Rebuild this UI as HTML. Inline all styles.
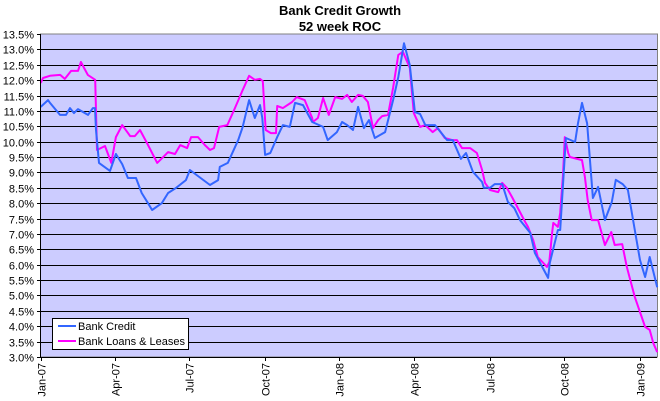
<!DOCTYPE html>
<html><head><meta charset="utf-8">
<style>
html,body{margin:0;padding:0;background:#fff;}
svg{display:block;font-family:"Liberation Sans",Arial,sans-serif;}
</style></head>
<body>
<svg id="chart" width="660" height="401" viewBox="0 0 660 401">
  <text x="340" y="15" text-anchor="middle" font-size="13" font-weight="bold">Bank Credit Growth</text>
  <text x="340" y="31" text-anchor="middle" font-size="13" font-weight="bold">52 week ROC</text>
  <rect x="40.5" y="34" width="617" height="323" fill="#ccccff" stroke="#808080" stroke-width="1"/>
  <g id="grid"></g>
  <g id="series"></g>
  <line x1="40.5" y1="34" x2="40.5" y2="357" stroke="#000"/>
  <line x1="40.5" y1="357.5" x2="657" y2="357.5" stroke="#000"/>
  <g id="yticks"></g>
  <g id="xticks"></g>
  <g>
    <rect x="52.5" y="318.5" width="136" height="31" fill="#fff" stroke="#000"/>
    <line x1="58" y1="326" x2="76" y2="326" stroke="#3366ff" stroke-width="2"/>
    <text x="78" y="330" font-size="11">Bank Credit</text>
    <line x1="58" y1="341" x2="76" y2="341" stroke="#ff00ff" stroke-width="2"/>
    <text x="78" y="345" font-size="11">Bank Loans &amp; Leases</text>
  </g>
</svg>
<script>
const yTickValues = [3.0,3.5,4.0,4.5,5.0,5.5,6.0,6.5,7.0,7.5,8.0,8.5,9.0,9.5,10.0,10.5,11.0,11.5,12.0,12.5,13.0,13.5];
const xTickLabels = ["Jan-07","Apr-07","Jul-07","Oct-07","Jan-08","Apr-08","Jul-08","Oct-08","Jan-09"];
const xTickWeeks = [0,12.9,25.9,39.0,52.0,65.1,78.2,91.2,104.4];
const creditWeeks = [0,1.27,1.62,3.36,4.41,5.1,5.8,6.5,8.24,9.1,9.46,9.63,10.16,12.07,13.1,14.2,15.2,16.6,17.6,18.7,19.4,21.1,22.2,23.6,25.3,26.0,29.5,30.9,31.2,32.6,34.4,35.2,36.3,37.3,38.2,38.6,39.1,40.0,41.2,42.2,43.4,44.3,45.7,47.3,49.2,50.0,51.6,52.5,53.4,54.4,55.3,56.3,57.2,58.2,60.0,61.4,62.3,63.3,64.3,65.2,66.1,67.0,68.7,70.8,71.8,73.2,74.1,75.3,76.9,77.2,78.3,79.1,80.4,81.4,82.5,83.5,85.3,86.1,87.0,88.4,88.7,90.1,90.5,91.5,93.1,93.6,94.3,95.2,96.2,97.1,98.3,99.5,100.2,101.4,102.3,103.5,104.4,105.3,106.1,107.4];
const creditValues = [11.13,11.35,11.26,10.87,10.87,11.09,10.93,11.06,10.87,11.09,11.09,10.38,9.31,9.05,9.6,9.27,8.82,8.82,8.33,8.0,7.78,8.0,8.33,8.5,8.75,9.08,8.59,8.75,9.18,9.31,10.05,10.48,11.35,10.77,11.19,10.77,9.57,9.63,10.15,10.54,10.48,11.26,11.19,10.64,10.48,10.05,10.31,10.64,10.54,10.38,11.13,10.44,10.7,10.12,10.31,11.35,12.1,13.2,12.49,10.96,10.9,10.54,10.54,10.05,10.05,9.44,9.63,9.02,8.69,8.5,8.5,8.62,8.62,8.04,7.84,7.45,7.03,6.38,6.06,5.57,6.06,7.13,7.13,10.12,9.99,10.6,11.26,10.6,8.17,8.53,7.45,8.04,8.76,8.62,8.43,7.13,6.15,5.6,6.25,5.27];
const loansWeeks = [0,0.4,1.6,3.4,4.2,5.3,6.5,7.0,8.2,9.5,9.8,11.2,12.3,13.1,14.2,15.6,16.4,17.3,18.5,20.3,21.7,22.2,23.4,24.3,25.5,26.2,27.4,28.6,29.5,30.2,31.1,32.5,33.7,35.2,36.3,37.3,38.2,38.7,39.2,40.1,41.0,41.2,42.2,43.8,44.6,46.0,47.3,47.4,48.3,49.2,50.2,51.3,52.5,53.4,54.2,55.3,56.1,57.0,57.9,58.8,59.5,60.5,61.4,62.3,63.1,64.3,65.0,66.1,67.0,68.3,69.2,70.4,71.7,72.5,73.4,74.8,76.0,76.9,77.4,78.3,79.7,80.4,81.2,82.1,83.5,84.4,84.9,85.8,86.6,88.2,88.6,89.1,89.3,90.1,90.5,91.0,91.3,91.9,92.2,94.3,94.8,95.3,96.0,97.1,98.3,99.4,100.0,101.3,102.1,103.5,104.7,105.3,106.1,106.7,107.4];
const loansValues = [11.91,12.07,12.14,12.17,12.04,12.3,12.3,12.59,12.17,12.01,9.73,9.86,9.31,10.15,10.54,10.18,10.18,10.38,9.96,9.31,9.57,9.66,9.6,9.89,9.79,10.15,10.15,9.89,9.73,9.79,10.48,10.54,11.03,11.68,12.14,12.01,12.04,11.97,10.38,10.28,10.28,11.16,11.09,11.29,11.45,11.35,10.77,10.64,10.77,11.42,10.87,11.45,11.39,11.52,11.29,11.52,11.49,11.29,10.44,10.7,10.83,10.87,11.75,12.82,12.92,12.4,10.93,10.48,10.54,10.31,10.44,10.12,10.05,10.05,9.79,9.79,9.63,9.08,8.66,8.43,8.36,8.66,8.5,8.2,7.71,7.39,7.23,6.8,6.25,5.93,6.09,7.03,7.36,7.23,7.68,8.92,10.15,9.63,9.5,9.4,8.85,8.1,7.45,7.45,6.64,7.06,6.64,6.67,5.93,4.95,4.3,3.98,3.88,3.46,3.16];

const NS = "http://www.w3.org/2000/svg";
const X0 = 40.7, XW = 5.74, YTOP = 34, YBOT = 357, VMIN = 3.0, VMAX = 13.5;
function xScale(w){ return X0 + w * XW; }
function yScale(v){ return YBOT - (v - VMIN) / (VMAX - VMIN) * (YBOT - YTOP); }
function mk(tag, attrs, parent){ const e = document.createElementNS(NS, tag); for (const k in attrs) e.setAttribute(k, attrs[k]); parent.appendChild(e); return e; }

const grid = document.getElementById('grid');
const yt = document.getElementById('yticks');
yTickValues.forEach(v => {
  const y = Math.round(yScale(v)) + 0.5;
  if (v > VMIN && v < VMAX) {
    const gl = mk('line', {x1: 40.5, x2: 657, y1: y, y2: y, stroke: '#000', 'stroke-width': 1}, grid);
    
    
  }
  const tk = mk('line', {x1: 37, x2: 40.5, y1: y, y2: y, stroke: '#000'}, yt);
  
  
  const t = mk('text', {x: 34, y: y + 4, 'text-anchor': 'end', 'font-size': 11}, yt);
  t.textContent = v.toFixed(1) + '%';
  
  
});

const xt = document.getElementById('xticks');
xTickLabels.forEach((lab, i) => {
  const x = Math.round(xScale(xTickWeeks[i])) + 0.5;
  const tk = mk('line', {x1: x, x2: x, y1: 357, y2: 361, stroke: '#000'}, xt);
  
  
  const t = mk('text', {x: 0, y: 0, 'text-anchor': 'end', 'font-size': 11, transform: 'translate(' + (x + 4) + ',363) rotate(-90)'}, xt);
  t.textContent = lab;
  
  
});

const sg = document.getElementById('series');
function drawSeries(ws, vs, color, name){
  const pts = ws.map((w, i) => xScale(w).toFixed(1) + ',' + yScale(vs[i]).toFixed(1)).join(' ');
  const pl = mk('polyline', {points: pts, fill: 'none', stroke: color, 'stroke-width': 2, 'stroke-linejoin': 'round'}, sg);
  
  
}
drawSeries(loansWeeks, loansValues, '#ff00ff', 'bank-loans-leases-line');
drawSeries(creditWeeks, creditValues, '#3366ff', 'bank-credit-line');
</script>
</body></html>
